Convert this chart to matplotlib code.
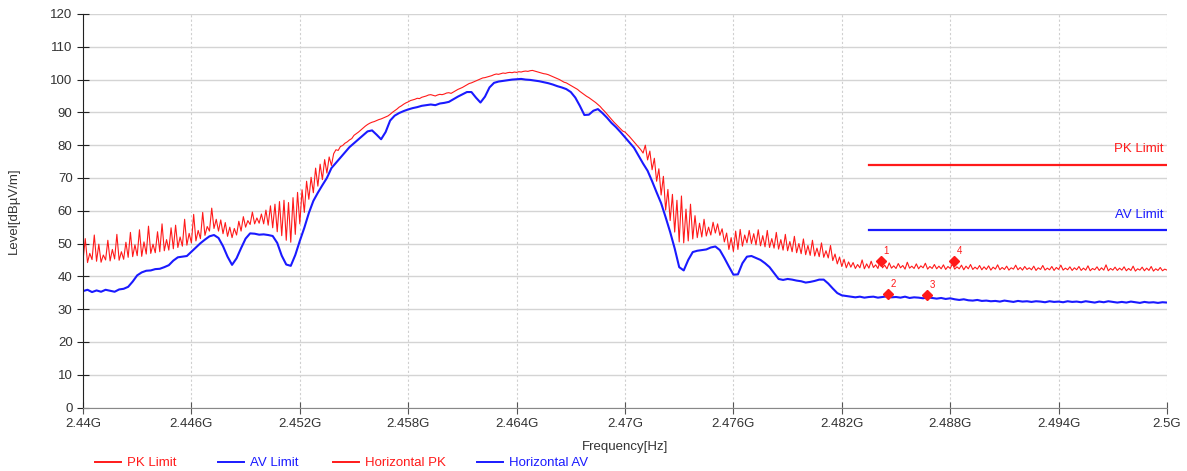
import numpy as np
import matplotlib
matplotlib.use('Agg')
import matplotlib.pyplot as plt
from matplotlib.lines import Line2D

plt.rcParams['font.family'] = ['Liberation Sans', 'DejaVu Sans']

# frequency axis (GHz)
f_start = 2.44
f_stop = 2.5
x_ticks = [2.44, 2.446, 2.452, 2.458, 2.464, 2.47, 2.476, 2.482, 2.488, 2.494, 2.5]
x_tick_labels = ['2.44G', '2.446G', '2.452G', '2.458G', '2.464G', '2.47G',
                 '2.476G', '2.482G', '2.488G', '2.494G', '2.5G']
y_ticks = list(range(0, 121, 10))

# Horizontal AV trace, one value every 0.25 MHz
av_level = [
    35.5, 35.9, 35.2, 35.7, 35.3, 35.9, 35.6, 35.3, 36.0, 36.2,
    36.8, 38.4, 40.3, 41.2, 41.7, 41.8, 42.2, 42.3, 42.8, 43.4,
    44.8, 45.8, 46.0, 46.2, 47.5, 48.8, 50.1, 51.2, 52.2, 52.6,
    51.7, 49.2, 46.0, 43.5, 45.5, 48.6, 51.5, 53.1, 53.0, 52.7,
    52.8, 52.6, 52.3, 50.2, 46.3, 43.6, 43.2, 46.5, 50.8, 54.8,
    59.3, 63.0, 65.5, 67.8, 70.0, 73.0, 74.6, 76.2, 77.8, 79.4,
    80.6, 81.8, 83.0, 84.2, 84.5, 83.2, 81.8, 84.0, 87.5, 89.0,
    89.8, 90.4, 90.9, 91.3, 91.6, 92.0, 92.2, 92.4, 92.2, 92.7,
    92.9, 93.2, 94.0, 94.8, 95.5, 96.2, 96.2, 94.5, 93.0, 94.8,
    97.6, 99.0, 99.4, 99.6, 99.8, 100.0, 100.1, 100.2, 100.0, 99.9,
    99.7, 99.5, 99.2, 98.9, 98.5, 98.0, 97.6, 97.1, 96.2, 94.5,
    92.0, 89.2, 89.3, 90.5, 91.0, 89.8, 88.4, 86.8, 85.5, 84.0,
    82.4, 80.8, 79.2, 76.8, 74.4, 72.2, 69.0, 65.6, 62.3, 58.0,
    53.5, 48.5, 42.8, 41.8, 45.0, 47.4, 47.8, 48.0, 48.2, 48.8,
    49.1, 48.0, 45.6, 43.0, 40.5, 40.6, 44.0, 46.0, 46.2, 45.6,
    45.0, 44.0, 42.8, 41.0, 39.2, 38.9, 39.2, 39.0, 38.7, 38.5,
    38.1, 38.3, 38.6, 39.0, 39.0, 37.8, 36.3, 34.9, 34.2, 34.0,
    33.8, 33.6, 33.8, 33.5, 33.7, 33.8, 33.5, 33.7, 33.9, 33.6,
    33.7, 33.5, 33.8, 33.4, 33.6, 33.5, 33.3, 33.6, 33.4, 33.2,
    33.4, 33.1, 33.3, 33.0, 32.8, 33.0, 32.7, 32.6, 32.8, 32.5,
    32.6, 32.4, 32.5, 32.3, 32.6, 32.4, 32.2, 32.5, 32.3, 32.4,
    32.2, 32.4, 32.3, 32.1, 32.4, 32.2, 32.3, 32.1, 32.4, 32.2,
    32.3, 32.1, 32.4, 32.2, 32.0, 32.3, 32.1, 32.4, 32.2, 32.0,
    32.2, 32.0, 32.3, 32.1, 31.9, 32.2, 32.0, 32.1, 31.9, 32.1,
    32.0,
]

# Horizontal PK trace, one value every 0.125 MHz
pk_level = [
    44.8, 51.5, 44.2, 47.0, 45.1, 52.6, 44.6, 49.8, 44.3, 46.5, 45.0, 51.0, 44.7, 48.2, 45.3, 52.8, 44.9, 47.5, 45.2, 50.4,
    45.8, 53.4, 46.0, 49.6, 46.3, 54.2, 46.1, 50.5, 46.8, 55.3, 47.0, 49.8, 47.2, 53.6, 47.5, 56.0, 47.8, 51.2, 48.0, 54.8,
    48.4, 55.6, 48.8, 52.0, 49.2, 57.4, 49.5, 53.1, 50.2, 58.9, 50.8, 54.0, 51.5, 59.5, 52.5, 55.2, 53.8, 60.8, 54.6, 57.4,
    53.8, 57.2, 53.0, 56.4, 52.2, 55.0, 51.8, 54.6, 52.6, 56.8, 53.8, 58.2, 55.0, 57.0, 55.8, 59.6, 56.0, 57.8, 56.2, 59.0,
    56.0, 60.2, 55.6, 61.5, 54.8, 62.0, 53.6, 62.8, 52.4, 63.2, 51.0, 62.5, 50.4, 64.0, 52.8, 65.6, 56.0, 66.4, 59.5, 69.0,
    63.5, 70.2, 65.5, 73.0, 67.5, 74.2, 69.5, 75.6, 71.5, 76.4, 73.8, 77.4, 78.6, 78.4, 79.6, 79.9, 80.6, 81.0, 81.6, 82.0,
    83.0, 83.5, 84.0, 84.6, 85.2, 85.8, 86.3, 86.7, 87.0, 87.2, 87.5, 87.8, 88.0, 88.3, 88.6, 88.9, 89.4, 90.0, 90.5, 91.0,
    91.6, 92.0, 92.5, 92.9, 93.2, 93.6, 93.8, 94.0, 94.3, 94.2, 94.6, 94.8, 95.0, 95.3, 95.4, 95.2, 95.0, 95.3, 95.5, 95.4,
    95.6, 95.9, 96.0, 95.8, 96.2, 96.6, 97.0, 97.3, 97.6, 98.0, 98.4, 98.8, 99.0, 99.3, 99.6, 99.9, 100.2, 100.5, 100.6, 100.8,
    101.0, 101.2, 101.5, 101.7, 101.6, 101.8, 102.0, 101.9, 102.1, 102.2, 102.1, 102.3, 102.2, 102.4, 102.3, 102.5, 102.6, 102.5, 102.7, 102.8,
    102.6, 102.4, 102.2, 102.0, 101.8, 101.7, 101.5, 101.2, 100.9, 100.6, 100.3, 100.0, 99.6, 99.2, 99.0, 98.6, 98.2, 97.8, 97.4, 97.0,
    96.4, 95.9, 95.4, 94.9, 94.5, 94.0, 93.5, 93.0, 92.4, 91.8, 91.0, 90.3, 89.5, 88.7, 87.9, 87.1, 86.4, 85.7, 85.0, 84.3,
    84.0, 83.3, 82.6, 81.8, 81.0, 80.2, 79.4, 78.6, 77.6, 80.0, 75.5, 78.2, 72.5, 76.0, 69.0, 72.8, 64.8, 70.5, 60.2, 66.5,
    57.0, 65.0, 53.5, 63.2, 50.5, 64.5, 50.2, 60.5, 50.8, 62.0, 51.4, 58.5, 51.8, 56.2, 52.0, 57.4, 52.3, 55.0, 52.6, 56.5,
    53.2, 56.0, 52.5, 54.5, 50.5, 53.2, 48.2, 51.8, 47.6, 53.8, 48.2, 54.3, 49.2, 52.6, 50.2, 54.0, 50.0, 53.0, 49.6, 54.2,
    49.3, 52.4, 49.0, 54.0, 48.8, 51.5, 48.6, 53.4, 48.3, 51.2, 48.0, 52.8, 47.8, 50.6, 47.5, 52.2, 47.2, 50.0, 46.9, 51.4,
    46.6, 49.4, 46.4, 51.0, 46.2, 48.6, 46.0, 50.2, 45.8, 47.8, 45.6, 49.4, 44.8, 46.8, 43.8, 45.9, 43.0, 45.2, 42.6, 44.4,
    42.8, 44.2, 42.4, 43.6, 42.6, 45.0, 42.3, 43.8, 42.5, 44.6, 42.7, 43.5, 42.4, 44.8, 42.6, 43.4, 42.3, 44.1, 42.5, 43.2,
    42.4, 43.9, 42.6, 43.3, 42.2, 44.3, 42.5, 43.1, 42.4, 43.8, 42.3, 43.2, 42.6, 44.0, 42.2, 43.0, 42.4, 43.6, 42.3, 43.1,
    42.3, 43.5, 42.1, 43.0, 42.4, 43.8, 42.2, 42.9, 42.3, 43.4, 42.0, 43.1, 42.3, 43.6, 42.1, 42.8, 42.2, 43.3, 42.0, 42.9,
    42.1, 43.2, 41.9, 42.8, 42.2, 43.5, 42.0, 42.7, 42.1, 43.1, 41.9, 42.6, 42.2, 43.4, 42.0, 42.7, 41.9, 43.0, 42.1, 42.6,
    42.0, 43.1, 41.8, 42.6, 42.1, 43.3, 41.9, 42.5, 42.0, 43.0, 41.8, 42.7, 42.1, 43.4, 41.9, 42.5, 42.0, 42.9, 41.8, 42.6,
    42.0, 43.0, 41.8, 42.5, 41.9, 43.2, 41.7, 42.4, 42.0, 42.9, 41.8, 42.6, 41.9, 43.5, 41.7, 42.4, 41.9, 42.8, 41.8, 42.5,
    41.9, 42.9, 41.7, 42.4, 41.8, 43.1, 41.6, 42.3, 41.9, 42.8, 41.7, 42.5, 41.8, 43.0, 41.6, 42.3, 41.8, 42.7, 41.7, 42.2,
    41.9,
]

# limit lines (restricted band)
limit_freq = [2.4835, 2.5]
pk_limit = [74, 74]
av_limit = [54, 54]

# marker points
marker_freq = [2.48417, 2.48456, 2.48672, 2.48821]
marker_level = [44.7, 34.7, 34.4, 44.7]
marker_names = ['1', '2', '3', '4']

# legend entries and where each one starts (pixels from the left)
legend_names = ['PK Limit', 'AV Limit', 'Horizontal PK', 'Horizontal AV']
legend_x = [95, 218, 333, 477]

av_freq = np.linspace(f_start, f_stop, len(av_level))
pk_freq = np.linspace(f_start, f_stop, len(pk_level))

red = '#ff1a1a'
blue = '#1a1aff'
W, H = 1187, 471

fig = plt.figure(figsize=(W / 100, H / 100), dpi=100)
ax = fig.add_axes([83 / W, 1 - 407.5 / H, 1084 / W, 393.5 / H])

ax.plot(pk_freq, pk_level, color=red, lw=0.8)
ax.plot(av_freq, av_level, color=blue, lw=1.5)
ax.plot(limit_freq, pk_limit, color=red, lw=1.6)
ax.plot(limit_freq, av_limit, color=blue, lw=1.6)
ax.text(2.4998, 77, 'PK Limit', color=red, ha='right', va='bottom', fontsize=9.5)
ax.text(2.4998, 57, 'AV Limit', color=blue, ha='right', va='bottom', fontsize=9.5)

ax.plot(marker_freq, marker_level, 'D', color=red, ms=5, ls='none')
for fq, lv, nm in zip(marker_freq, marker_level, marker_names):
    ax.annotate(nm, (fq, lv), xytext=(2, 5), textcoords='offset points',
                color=red, fontsize=7)

ax.set_xlim(f_start, f_stop)
ax.set_ylim(0, 120)
ax.set_xticks(x_ticks)
ax.set_xticklabels(x_tick_labels)
ax.set_yticks(y_ticks)

ax.grid(axis='y', color='#d4d4d4', lw=1)
ax.grid(axis='x', color='#cfcfcf', lw=0.8, ls=(0, (2, 2)))
ax.set_axisbelow(True)

for s in ['top', 'right']:
    ax.spines[s].set_visible(False)
ax.spines['left'].set_color('#222222')
ax.spines['bottom'].set_color('#888888')
ax.tick_params(axis='y', direction='inout', length=8, colors='#222222', labelsize=9.5, labelcolor='#333333')
ax.tick_params(axis='x', direction='inout', length=8, colors='#555555', labelsize=9.5, labelcolor='#333333')

ax.set_xlabel('Frequency[Hz]', fontsize=9.5, color='#333333', labelpad=8)
ax.set_ylabel('Level[dBµV/m]', fontsize=9.5, color='#333333')
ax.yaxis.set_label_coords(-0.058, 0.5)

# one small legend per entry, placed like the original row
for nm, lx, col in zip(legend_names, legend_x, [red, blue, red, blue]):
    lg = fig.legend([Line2D([], [], color=col, lw=1.4)], [nm], loc='center left',
                    bbox_to_anchor=(lx / W, 1 - 463 / H), frameon=False, fontsize=9.5,
                    handlelength=2.0, handletextpad=0.4, borderpad=0, borderaxespad=0)
    lg.get_texts()[0].set_color(col)

fig.savefig('out.png', dpi=100)
